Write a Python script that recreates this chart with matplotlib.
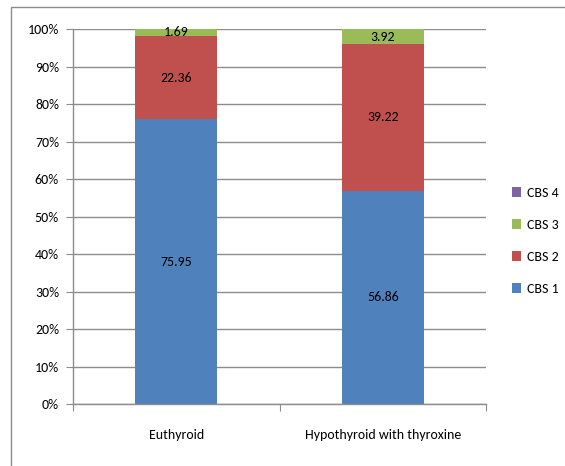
import matplotlib
matplotlib.use("Agg")
import matplotlib.pyplot as plt
from matplotlib.patches import Rectangle
from matplotlib import font_manager

categories = ["Euthyroid", "Hypothyroid with thyroxine"]
series_names = ["CBS 1", "CBS 2", "CBS 3", "CBS 4"]
cbs1 = [75.95, 56.86]
cbs2 = [22.36, 39.22]
cbs3 = [1.69, 3.92]
cbs4 = [0.0, 0.0]
labels = [["75.95", "56.86"], ["22.36", "39.22"], ["1.69", "3.92"], [None, None]]
yticklabels = ["0%", "10%", "20%", "30%", "40%", "50%", "60%", "70%", "80%", "90%", "100%"]

colors = ["#4F81BD", "#C0504D", "#9BBB59", "#8064A2"]

names = {f.name for f in font_manager.fontManager.ttflist}
fam = "DejaVu Sans"
for cand in ["Carlito", "Liberation Sans Narrow", "Lato", "Roboto"]:
    if cand in names:
        fam = cand
        break
plt.rcParams["font.family"] = [fam, "DejaVu Sans"]
FS = 10

fig = plt.figure(figsize=(5.65, 4.66), dpi=100)
ax = fig.add_axes([73/565, 1-404/466, (486-73)/565, (404-29.3)/466])

x = [0.5, 1.5]
series = [cbs1, cbs2, cbs3, cbs4]
bottom = [0.0, 0.0]
handles = []
for vals, col, name, labs in zip(series, colors, series_names, labels):
    b = ax.bar(x, vals, width=0.395, bottom=bottom, color=col, label=name)
    handles.append(b)
    for xi, v, bo, lab in zip(x, vals, bottom, labs):
        if lab is not None:
            ax.text(xi, bo + v/2, lab, ha="center", va="center", fontsize=FS, color="black")
    bottom = [bo + v for bo, v in zip(bottom, vals)]

ax.set_xlim(0, 2)
ax.set_ylim(0, 100)
ax.set_yticks(range(0, 101, 10))
ax.set_yticklabels(yticklabels, fontsize=FS)
ax.yaxis.grid(True, color="#8c8c8c", linewidth=1)
ax.set_axisbelow(True)
ax.set_xticks([0, 1, 2])
ax.set_xticklabels([])
ax.set_xticks(x, minor=True)
ax.set_xticklabels(categories, minor=True, fontsize=FS)
ax.tick_params(axis="x", which="minor", length=0, pad=18)
ax.tick_params(axis="x", which="major", length=5, color="#8c8c8c")
ax.tick_params(axis="y", length=5, color="#8c8c8c", pad=5)
for s in ["top", "right"]:
    ax.spines[s].set_visible(False)
for s in ["left", "bottom"]:
    ax.spines[s].set_color("#8c8c8c")
    ax.spines[s].set_linewidth(1)

leg = fig.legend(handles[::-1], series_names[::-1], loc="upper left",
                 bbox_to_anchor=(502/565, 1-177/466), frameon=False,
                 fontsize=FS, handlelength=0.7, handleheight=0.7,
                 handletextpad=0.4, labelspacing=1.45, borderpad=0.2)

fig.patches.append(Rectangle((11/565, -0.1), 1.2, 1-7/466 + 0.1,
                             transform=fig.transFigure, fill=False,
                             edgecolor="#8c8c8c", linewidth=1, clip_on=False))

fig.savefig("out.png", dpi=100)
